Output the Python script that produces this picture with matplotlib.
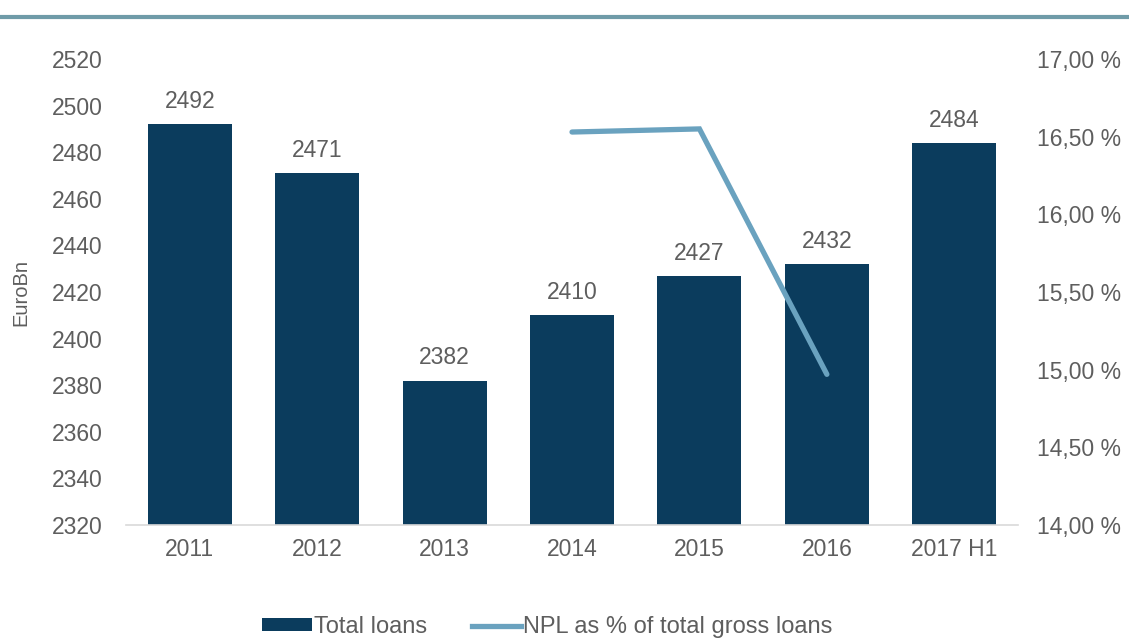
import numpy as np
import matplotlib.pyplot as plt
from matplotlib.lines import Line2D
from matplotlib.patches import Patch

plt.rcParams['font.family'] = ['Liberation Sans', 'DejaVu Sans']

categories = ["2011", "2012", "2013", "2014", "2015", "2016", "2017 H1"]
total_loans = [2492, 2471, 2382, 2410, 2427, 2432, 2484]
npl_pct = [np.nan, np.nan, np.nan, 16.53, 16.55, 14.97, np.nan]

BAR = "#0B3C5D"
LINE = "#6AA2BF"
TXT = "#5E5E5E"

fig = plt.figure(figsize=(11.29, 6.38), dpi=100)
ax = fig.add_axes([0.1116, 0.1771, 0.7901, 0.7304])
ax2 = ax.twinx()

x = np.arange(len(categories))
bars = ax.bar(x, total_loans, width=0.66, color=BAR, zorder=2)
for xi, v in zip(x, total_loans):
    ax.annotate(f"{v}", (xi, v), xytext=(0, 8), textcoords="offset points",
                ha="center", va="bottom", fontsize=16.5, color=TXT)

ax.set_ylim(2320, 2520)
ax.set_yticks(np.arange(2320, 2521, 20))
ax.set_xlim(-0.5, len(categories) - 0.5)
ax.set_xticks(x)
ax.set_xticklabels(categories)
ax.set_ylabel("EuroBn", fontsize=14.5, color=TXT, labelpad=15)

ax2.plot(x, npl_pct, color=LINE, lw=3.8, solid_capstyle="round",
         solid_joinstyle="miter", zorder=3)
ax2.set_ylim(14.0, 17.0)
ax2.set_yticks(np.arange(14.0, 17.01, 0.5))
ax2.set_yticklabels([f"{t:.2f} %".replace(".", ",") for t in np.arange(14.0, 17.01, 0.5)])

for a in (ax, ax2):
    for s in a.spines.values():
        s.set_visible(False)
    a.tick_params(length=0, labelsize=16.5, colors=TXT)
ax.spines["bottom"].set_visible(True)
ax.spines["bottom"].set_color("#D9D9D9")
ax.spines["bottom"].set_linewidth(1.2)
ax.tick_params(axis="y", pad=17)
ax.tick_params(axis="x", pad=9)
ax2.tick_params(axis="y", pad=14)

# header rule
fig.add_artist(Line2D([0, 1], [0.973, 0.973], transform=fig.transFigure,
                      color="#6F9BA8", lw=3))

handles = [Patch(facecolor=BAR, edgecolor="none", label="Total loans"),
           Line2D([0], [0], color=LINE, lw=3.8, label="NPL as % of total gross loans")]
fig.legend(handles=handles, loc="center", bbox_to_anchor=(0.485, 0.017), ncol=2,
           frameon=False, fontsize=17, labelcolor=TXT, handlelength=2.1,
           handleheight=0.45, handletextpad=0.08, columnspacing=1.9)

fig.savefig("out.png", dpi=100, facecolor="white")
